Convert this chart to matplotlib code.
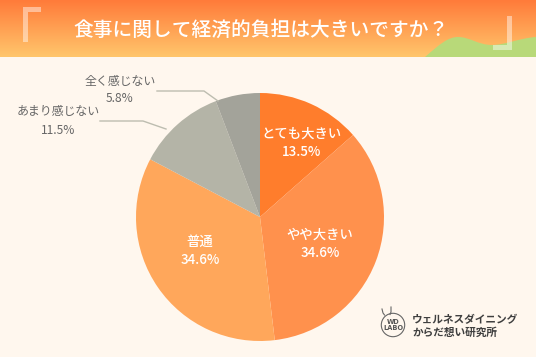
import matplotlib
matplotlib.use("Agg")
import matplotlib.pyplot as plt
import numpy as np
from matplotlib.patches import PathPatch, Circle, Rectangle
from matplotlib.path import Path

plt.rcParams['font.family'] = ['Noto Sans CJK JP', 'DejaVu Sans']

title = "食事に関して経済的負担は大きいですか？"
categories = ["とても大きい", "やや大きい", "普通", "あまり感じない", "全く感じない"]
values = [13.5, 34.6, 34.6, 11.5, 5.8]
colors = ["#FF7D2C", "#FF914D", "#FFA75B", "#B4B4A7", "#A3A39A"]
logo_lines = ["ウェルネスダイニング", "からだ想い研究所"]

W, H = 536, 357
fig = plt.figure(figsize=(W / 100, H / 100), dpi=100)
fig.patch.set_facecolor("#FFF7EE")
ax = fig.add_axes([0, 0, 1, 1])
ax.set_xlim(0, W)
ax.set_ylim(0, H)
ax.set_aspect("equal")
ax.axis("off")

def Y(y):
    return H - y

# banner gradient
bh = 57
top = np.array([0xFF, 0x7B, 0x3A]) / 255
bot = np.array([0xFF, 0xC6, 0x6C]) / 255
t = np.linspace(0, 1, 64)[:, None]
grad = (top[None, :] * (1 - t) + bot[None, :] * t)[:, None, :]
ax.imshow(grad, extent=(0, W, Y(bh), H), aspect="auto", zorder=1)

# hill
verts = [(425, Y(bh)), (440, Y(44)), (448, Y(37)), (458, Y(37)),
         (470, Y(37)), (478, Y(45)), (492, Y(45)),
         (505, Y(45)), (520, Y(38)), (536, Y(37)),
         (536, Y(bh)), (425, Y(bh))]
codes = [Path.MOVETO, Path.CURVE4, Path.CURVE4, Path.CURVE4,
         Path.CURVE4, Path.CURVE4, Path.CURVE4,
         Path.CURVE4, Path.CURVE4, Path.CURVE4,
         Path.LINETO, Path.CLOSEPOLY]
ax.add_patch(PathPatch(Path(verts, codes), facecolor="#B8D979", edgecolor="none", zorder=2))

# brackets
wc = (1, 1, 1, 0.45)
ax.add_patch(Rectangle((23, Y(42)), 5, 35, facecolor=wc, edgecolor="none", zorder=3))
ax.add_patch(Rectangle((28, Y(12)), 13, 5, facecolor=wc, edgecolor="none", zorder=3))
ax.add_patch(Rectangle((507, Y(50)), 5, 34, facecolor=wc, edgecolor="none", zorder=3))
ax.add_patch(Rectangle((493, Y(50)), 14, 5, facecolor=wc, edgecolor="none", zorder=3))

ax.text(261, Y(30), title, color="white", fontsize=14.2, fontweight="medium",
        ha="center", va="center", zorder=4)

# pie
cx, cy, r = 260, Y(217), 124
ax.pie(values, colors=colors, startangle=90, counterclock=False,
       center=(cx, cy), radius=r, wedgeprops=dict(edgecolor="none"), frame=True)
ax.set_xlim(0, W)
ax.set_ylim(0, H)
ax.axis("off")

# inside labels
inside = [(302, 143), (320, 244), (200, 251)]
for i, (x, y) in enumerate(inside):
    ax.text(x, Y(y), f"{categories[i]}\n{values[i]}%", color="white", fontsize=9.6,
            fontweight="medium", ha="center", va="center", linespacing=1.45, zorder=5)

# outside labels with leader lines
lc = "#BDBDB0"
ax.plot([157, 204, 218], [Y(91), Y(91), Y(101)], color=lc, lw=1, zorder=5)
ax.plot([100, 143, 166], [Y(121), Y(121), Y(129)], color=lc, lw=1, zorder=5)
ax.text(120, Y(90), f"{categories[4]}\n{values[4]}%", color="#666666", fontsize=8.6,
        ha="center", va="center", linespacing=1.5, zorder=5)
ax.text(58, Y(121), f"{categories[3]}\n{values[3]}%", color="#666666", fontsize=8.6,
        ha="center", va="center", linespacing=1.5, zorder=5)

# logo
ax.add_patch(Circle((393, Y(325)), 11.7, facecolor="none", edgecolor="#666666", lw=0.8, zorder=5))
ax.plot([382, 383, 384.5], [Y(309), Y(313), Y(315)], color="#666666", lw=0.8)
ax.plot([391, 391, 390], [Y(307), Y(312), Y(314.5)], color="#666666", lw=0.8)
ax.text(393, Y(325), "WD\nLABO", color="#555555", fontsize=4.8, fontweight="bold",
        ha="center", va="center", linespacing=1.0, family=["DejaVu Sans"], zorder=6)
ax.text(412, Y(326.5), "\n".join(logo_lines), color="#3F3F3F", fontsize=7.7,
        fontweight="bold", ha="left", va="center", linespacing=1.3, zorder=6)

fig.savefig("out.png", dpi=100, facecolor=fig.get_facecolor())
